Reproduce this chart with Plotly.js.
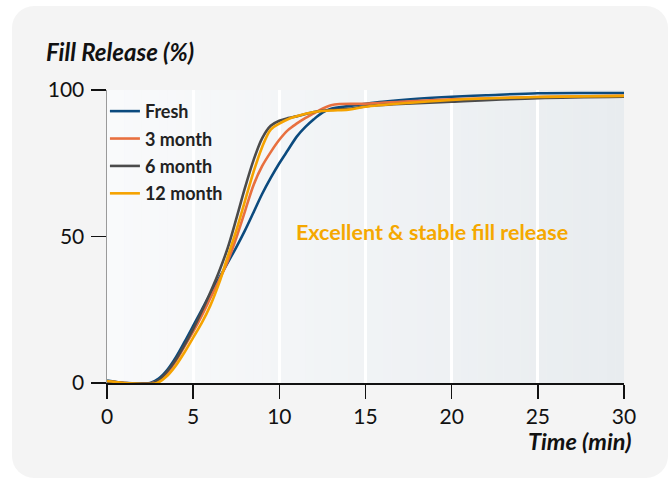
<!DOCTYPE html>
<html>
<head>
<meta charset="utf-8">
<script src="https://cdn.plot.ly/plotly-3.0.1.min.js"></script>
<style>
  html, body { margin: 0; padding: 0; background: #ffffff; }
  #wrap { position: relative; width: 671px; height: 483px; overflow: hidden; }
  #card { position: absolute; left: 12px; top: 6px; width: 656px; height: 472px;
          border-radius: 22px; background: #f4f4f4; }
  #chart { position: absolute; left: 0; top: 0; width: 671px; height: 483px; }
</style>
</head>
<body>
<div id="wrap"><div id="card"></div><div id="chart"></div></div>
<script>
// ---- data ----
const seriesNames = ["Fresh", "3 month", "6 month", "12 month"];

const freshT = [0, 0.5, 1, 2.5, 3, 3.5, 4, 4.5, 5, 5.5, 6, 6.5, 7, 7.5, 8, 8.5, 9, 9.5, 10, 10.5, 11, 11.5, 12, 12.5, 13, 14, 15, 16, 18, 20, 22, 25, 28, 30];
const freshV = [0.8, 0.4, 0, 0, 1.5, 4.5, 8.8, 14, 19.5, 25, 30.5, 35.7, 41, 46.3, 52, 58.2, 64.5, 70, 75, 79.5, 84, 87.3, 90, 92.3, 93.6, 94.5, 95.3, 96, 97, 97.7, 98.2, 98.9, 99, 99];

const m3T = [0, 0.5, 1, 2.6, 3, 3.5, 4, 4.5, 5, 5.5, 6, 6.5, 7, 7.5, 8, 8.5, 9, 9.5, 10, 10.5, 11, 11.5, 12, 12.5, 13, 13.5, 15, 17, 20, 25, 30];
const m3V = [0.6, 0.3, 0, 0, 0.8, 3.5, 7.5, 12.5, 17.5, 23, 29, 35, 41.5, 49.5, 58.5, 67.5, 74, 78.8, 83, 86.3, 88.5, 90.4, 92, 93.6, 94.8, 95.2, 95.3, 96, 96.8, 97.6, 98];

const m6T = [0, 0.5, 1, 2.7, 3, 3.5, 4, 4.5, 5, 5.5, 6, 6.5, 7, 7.5, 8, 8.5, 9, 9.5, 10, 10.5, 11, 12, 13, 14, 15, 17, 20, 25, 30];
const m6V = [0.5, 0.25, 0, 0, 1, 4, 8, 13, 18.5, 24.5, 31, 38, 46, 56, 66.5, 76, 83.5, 87.8, 89.5, 90.4, 91, 92.5, 93.2, 93.6, 94.4, 95.2, 96, 97.2, 97.7];

const m12T = [0, 0.5, 1, 2.9, 3.5, 4, 4.5, 5, 5.5, 6, 6.5, 7, 7.5, 8, 8.5, 9, 9.5, 10, 10.5, 11, 12, 13, 14, 15, 17, 20, 25, 30];
const m12V = [0.7, 0.35, 0, 0, 2.5, 6, 10.5, 15.5, 20.5, 26.5, 34, 43, 52, 62, 72, 80.5, 86.5, 88.5, 90, 91, 92.5, 93, 93.3, 94.3, 95.4, 96.6, 97.6, 98];

const xTicks = [0, 5, 10, 15, 20, 25, 30];
const yTicks = [0, 50, 100];

// ---- styles ----
const colors = ["#0b4a7e", "#e8703f", "#4b4b4b", "#f5a300"];
const seriesX = [freshT, m3T, m6T, m12T];
const seriesY = [freshV, m3V, m6V, m12V];

const traces = seriesNames.map((n, i) => ({
  type: "scatter", mode: "lines", name: n,
  x: seriesX[i], y: seriesY[i],
  legendgroup: "g" + i,
  line: { color: colors[i], width: 2.6, shape: "spline", smoothing: 0.9 },
  hoverinfo: "skip"
}));

// background gradient across the plot area
const shapes = [];
const N = 60;
const c0 = [249, 250, 251], c1 = [232, 236, 239];
for (let k = 0; k < N; k++) {
  const f = (k + 0.5) / N;
  const c = c0.map((v, j) => Math.round(v + (c1[j] - v) * f));
  shapes.push({
    type: "rect", layer: "below", xref: "x", yref: "paper",
    x0: 30 * k / N, x1: 30 * (k + 1) / N + 0.02, y0: 0, y1: 1,
    fillcolor: `rgb(${c[0]},${c[1]},${c[2]})`, line: { width: 0 }
  });
}

const layout = {
  width: 671, height: 483,
  margin: { l: 107, r: 47, t: 90, b: 100 },
  paper_bgcolor: "rgba(0,0,0,0)",
  plot_bgcolor: "rgba(0,0,0,0)",
  font: { family: "Lato, 'Open Sans', sans-serif", color: "#1a1a1a" },
  showlegend: true,
  legend: {
    x: -0.004, y: 0.99, xanchor: "left", yanchor: "top",
    xref: "paper", yref: "paper",
    bgcolor: "rgba(0,0,0,0)",
    font: { family: "Lato, sans-serif", size: 18, weight: 700, color: "#222" },
    traceorder: "grouped", tracegroupgap: 1
  },
  title: {
    text: "Fill Release (%)",
    font: { family: "Lato, sans-serif", size: 24, weight: 700, style: "italic", color: "#111" },
    xref: "container", yref: "container",
    x: 46 / 671, xanchor: "left", y: 1 - 53 / 483, yanchor: "middle"
  },
  xaxis: {
    range: [0, 30], tickvals: xTicks, ticktext: xTicks.map(String),
    showline: true, linecolor: "#111", linewidth: 1.5,
    ticks: "outside", ticklen: 14, tickwidth: 1.5, tickcolor: "#111",
    showgrid: true, gridcolor: "#ffffff", gridwidth: 3,
    zeroline: false, fixedrange: true,
    tickfont: { family: "Lato, sans-serif", size: 21, color: "#111" }
  },
  yaxis: {
    range: [0, 100], tickvals: yTicks, ticktext: yTicks.map(String),
    showline: true, linecolor: "#9a9a9a", linewidth: 1.5,
    ticks: "outside", ticklen: 15, tickwidth: 1.5, tickcolor: "#111",
    showgrid: false, zeroline: false, fixedrange: true,
    ticklabelstandoff: 2,
    tickfont: { family: "Lato, sans-serif", size: 21, color: "#111" }
  },
  shapes: shapes,
  annotations: [
    {
      text: "Excellent & stable fill release",
      xref: "x", yref: "y", x: 18.86, y: 51.5, showarrow: false,
      xanchor: "center", yanchor: "middle",
      font: { family: "Lato, sans-serif", size: 21.5, weight: 700, color: "#f5a800" }
    },
    {
      text: "Time (min)",
      xref: "paper", yref: "paper", x: 1, y: 0, xshift: 10, yshift: -58,
      xanchor: "right", yanchor: "middle", showarrow: false,
      font: { family: "Lato, sans-serif", size: 23.5, weight: 700, style: "italic", color: "#111" }
    }
  ]
};

Plotly.newPlot("chart", traces, layout, { displayModeBar: false, staticPlot: true });
</script>
</body>
</html>
